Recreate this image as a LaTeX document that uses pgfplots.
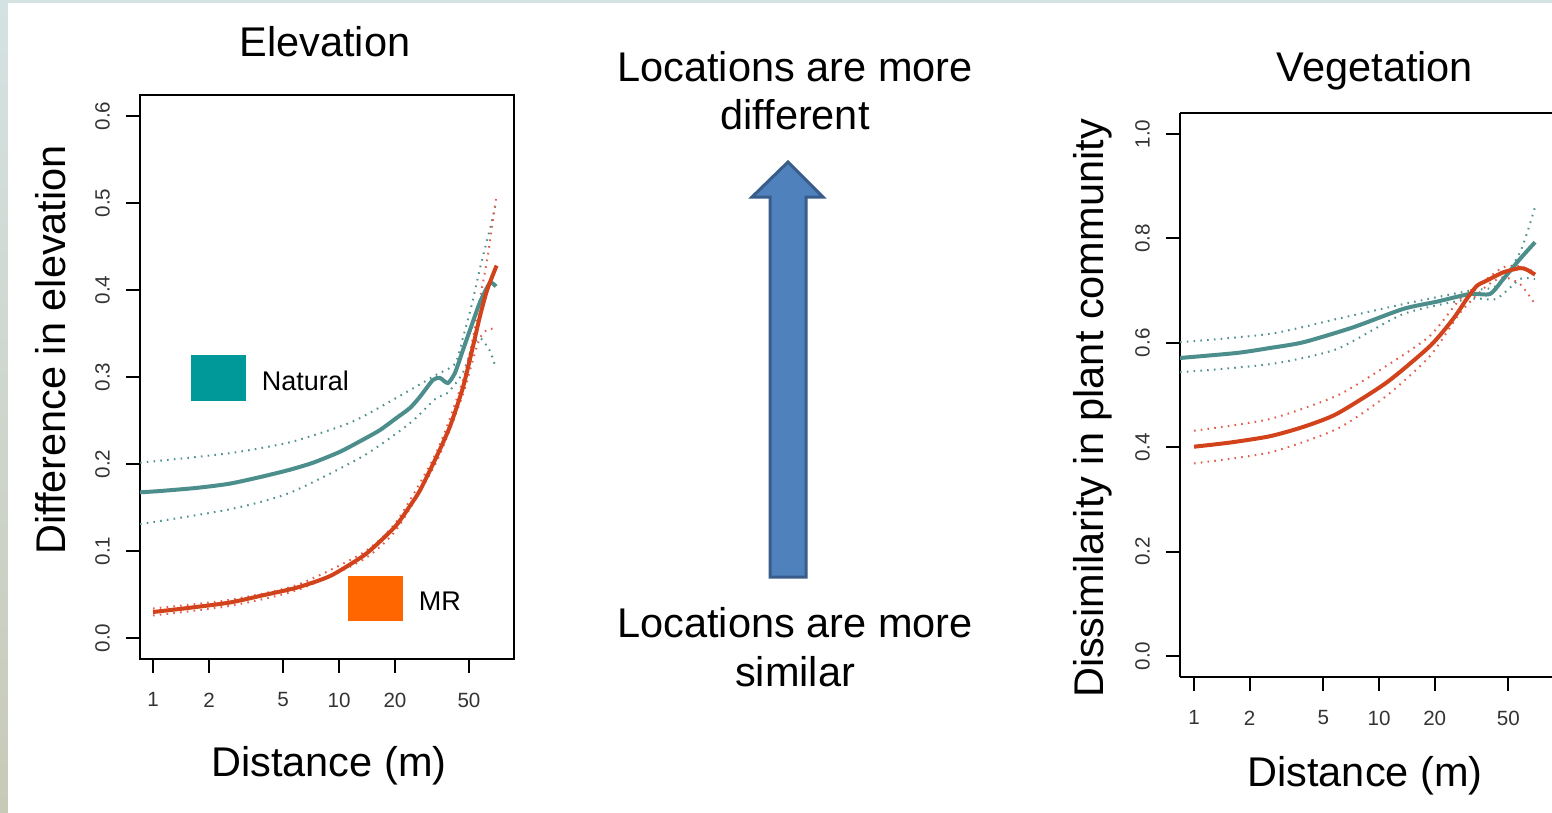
\documentclass[border=0pt]{standalone}
\usepackage{fontspec}
\setmainfont{Liberation Sans}
\usepackage{pgfplots}
\pgfplotsset{compat=1.18}

\definecolor{tealline}{RGB}{76,142,140}
\definecolor{redline}{RGB}{210,66,27}
\definecolor{tealdot}{RGB}{80,145,145}
\definecolor{reddot}{RGB}{225,95,75}
\definecolor{natbox}{RGB}{0,153,153}
\definecolor{mrbox}{RGB}{255,102,0}
\definecolor{arrowfill}{RGB}{79,129,189}
\definecolor{arrowdraw}{RGB}{56,93,138}
\definecolor{bgtop}{RGB}{212,226,226}
\definecolor{bgbot}{RGB}{200,202,184}

\newcommand{\bigfont}{\fontsize{20.75}{24}\selectfont}

\pgfplotsset{
  rstyle/.style={
    scale only axis, height=282pt,
    xtick={1,2,5,10,20,50}, xticklabels={1,2,5,10,20,50}, minor xtick={},
    tick align=outside, major tick length=7pt,
    tick style={line width=1pt, black},
    axis line style={line width=1.2pt, black},
    tick label style={font=\fontsize{10.3}{12}\selectfont, text=black!80},
    yticklabel style={rotate=90, anchor=south},
    xticklabel shift=6.3pt, yticklabel shift=4.6pt,
    /pgf/number format/assume math mode=true,
    label style={font=\bigfont},
    title style={font=\bigfont},
    every axis plot/.append style={no marks},
  },
  mainline/.style={line width=2pt, smooth, tension=0.4},
  bandline/.style={line width=1pt, dash pattern=on 0.8pt off 2.6pt, smooth, tension=0.4},
}

\begin{document}
\begin{tikzpicture}
\path[use as bounding box] (0pt,0pt) rectangle (776pt,-406.5pt);
\begin{scope}[x=0.5pt,y=-0.5pt]
  \shade[top color=bgtop,bottom color=bgbot] (0,0) rectangle (1552,813);
  \fill[white] (8,3) rectangle (1552,813);
\end{scope}

% ---------------- Elevation ----------------
\begin{axis}[xmode=log, rstyle,
  at={(70pt,-329.5pt)}, anchor=south west, width=187pt,
  xmin=0.851, xmax=87.3, ymin=-0.024, ymax=0.624,
  ytick={0,0.1,0.2,0.3,0.4,0.5,0.6},
  yticklabels={0.0,0.1,0.2,0.3,0.4,0.5,0.6},
  xtick pos=left, ytick pos=left,
  title={Elevation},
  title style={at={(axis description cs:0.4947,1.0691)}, anchor=base, yshift=-6pt},
  xlabel={Distance (m)},
  xlabel style={at={(axis description cs:0.5053,-0.2092)}, anchor=base},
  ylabel={Difference in elevation},
  ylabel style={at={(axis description cs:-0.1979,0.5479)}, anchor=base},
]
% Natural confidence band
\addplot[tealdot, bandline] coordinates {(0.851,0.2015) (2.59,0.2125) (5.45,0.225) (10.1,0.243) (13.45,0.2545) (24.1,0.285) (33,0.302) (42,0.315) (46.4,0.345) (52,0.385) (57.3,0.425) (64.8,0.47) (69.8,0.50)};
\addplot[tealdot, bandline] coordinates {(0.851,0.131) (2.59,0.148) (5.45,0.167) (13.45,0.209) (24.1,0.247) (33,0.275) (38.5,0.282) (46.4,0.305) (52,0.335) (57.3,0.345) (64.8,0.33) (69.8,0.31)};
% MR confidence band
\addplot[reddot, bandline] coordinates {(1,0.034) (2.59,0.044) (5.93,0.061) (13.45,0.098) (20.4,0.134) (33.5,0.214) (46.4,0.296) (52.5,0.345) (57.3,0.39) (63.2,0.44) (70.4,0.51)};
\addplot[reddot, bandline] coordinates {(1,0.026) (2.59,0.037) (5.93,0.055) (13.45,0.090) (20.4,0.125) (33.5,0.203) (46.4,0.28) (52.5,0.32) (57.3,0.345) (63.2,0.355) (70.4,0.355)};
% Natural
\addplot[tealline, mainline] coordinates {(0.851,0.1675) (1.09,0.169) (1.718,0.1726) (2.59,0.1775) (3.90,0.1858) (5.45,0.1935) (7.25,0.2015) (10.1,0.214) (13.45,0.228) (16.6,0.239) (20.4,0.253) (24.1,0.2645) (27.3,0.2775) (32.0,0.2966) (34.9,0.2989) (38.5,0.2931) (42.0,0.3046) (46.4,0.331) (50.6,0.3538) (57.3,0.386) (64.8,0.408) (69.8,0.404)};
% MR
\addplot[redline, mainline] coordinates {(1.0,0.030) (1.58,0.0349) (2.59,0.0409) (3.90,0.0492) (5.93,0.058) (8.95,0.0713) (13.45,0.0942) (16.6,0.111) (20.4,0.130) (24.1,0.152) (27.3,0.170) (33.5,0.2087) (39.5,0.2431) (46.4,0.288) (52.5,0.335) (57.3,0.37) (62.6,0.40) (70.4,0.428)};
\end{axis}

% ---------------- Vegetation ----------------
\begin{axis}[xmode=log, rstyle,
  at={(590pt,-338.5pt)}, anchor=south west, width=186pt,
  xmin=0.840, xmax=86.1, ymin=-0.04, ymax=1.04,
  axis x line*=box, axis y line*=left,
  xtick pos=left, ytick pos=left,
  ytick={0,0.2,0.4,0.6,0.8,1.0},
  yticklabels={0.0,0.2,0.4,0.6,0.8,1.0},
  title={Vegetation},
  title style={at={(axis description cs:0.5242,1.055)}, anchor=base, yshift=-6pt},
  xlabel={Distance (m)},
  xlabel style={at={(axis description cs:0.4973,-0.195)}, anchor=base},
  ylabel={Dissimilarity in plant community},
  ylabel style={at={(axis description cs:-0.207,0.476)}, anchor=base},
]
\addplot[tealdot, bandline] coordinates {(0.840,0.601) (2.57,0.617) (5.92,0.6456) (13.5,0.674) (31.0,0.70) (43,0.709) (57.8,0.773) (69.7,0.86)};
\addplot[tealdot, bandline] coordinates {(0.840,0.5435) (2.57,0.559) (5.92,0.588) (13.5,0.655) (31.0,0.684) (43,0.684) (57.8,0.722) (69.7,0.722)};
\addplot[reddot, bandline] coordinates {(1.0,0.4316) (2.57,0.454) (5.92,0.4987) (11.0,0.556) (18.9,0.6136) (27.5,0.684) (38.2,0.722) (47.0,0.7447) (57.8,0.7465) (69.7,0.735)};
\addplot[reddot, bandline] coordinates {(1.0,0.369) (2.57,0.390) (5.92,0.435) (11.0,0.4987) (18.9,0.575) (27.5,0.658) (38.2,0.709) (47.0,0.7255) (57.8,0.7126) (69.7,0.674)};
\addplot[tealline, mainline] coordinates {(0.840,0.5709) (1.70,0.5805) (2.57,0.590) (3.90,0.601) (7.26,0.6297) (13.5,0.6648) (20.5,0.6787) (31.0,0.6935) (39.8,0.6935) (47.0,0.7222) (57.8,0.7605) (69.7,0.7925)};
\addplot[redline, mainline] coordinates {(1.0,0.401) (1.57,0.409) (2.57,0.421) (3.9,0.439) (5.92,0.464) (11.0,0.524) (18.9,0.594) (25.2,0.646) (29.8,0.684) (33.8,0.709) (38.2,0.719) (47.0,0.735) (57.8,0.743) (62.9,0.740) (69.7,0.7305)};
\end{axis}

% ---------------- annotations (pixel coordinates) ----------------
\begin{scope}[x=0.5pt,y=-0.5pt]
  % legend boxes
  \fill[natbox] (191,355) rectangle (245.5,400.5);
  \node[anchor=base west, inner sep=0pt, font=\fontsize{13.5}{16}\selectfont] at (261.5,390) {Natural};
  \fill[mrbox] (348.3,575.7) rectangle (402.7,621);
  \node[anchor=base west, inner sep=0pt, font=\fontsize{13.5}{16}\selectfont] at (418.5,610) {MR};
  % middle text
  \node[anchor=base, inner sep=0pt, font=\bigfont] at (795,82) {Locations are more};
  \node[anchor=base, inner sep=0pt, font=\bigfont] at (795,130) {different};
  \node[anchor=base, inner sep=0pt, font=\bigfont] at (795,637) {Locations are more};
  \node[anchor=base, inner sep=0pt, font=\bigfont] at (795,686) {similar};
  % arrow
  \filldraw[fill=arrowfill, draw=arrowdraw, line width=1.5pt, line join=miter]
    (770,577) -- (770,197) -- (752,197) -- (788,162) -- (823,197) -- (806,197) -- (806,577) -- cycle;
\end{scope}
\end{tikzpicture}
\end{document}
